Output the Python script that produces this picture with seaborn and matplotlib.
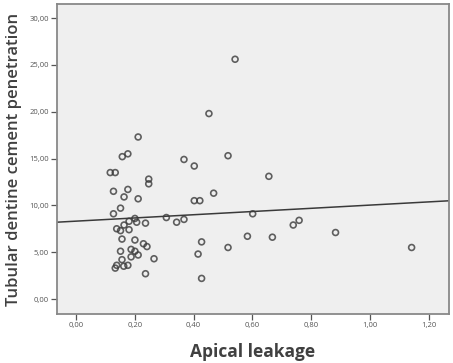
import matplotlib
matplotlib.use("Agg")
import matplotlib.pyplot as plt
import pandas as pd
import seaborn as sns

###############################################################################
# data

apical_leakage = [
    0.541, 0.452, 0.211, 0.157, 0.176, 0.367, 0.402, 0.517,
    0.116, 0.133, 0.247, 0.247, 0.127, 0.176, 0.163, 0.211,
    0.468, 0.402, 0.421, 0.151, 0.127, 0.601, 0.200, 0.180,
    0.206, 0.236, 0.307, 0.342, 0.367, 0.163, 0.138, 0.151,
    0.180, 0.156, 0.200, 0.229, 0.241, 0.427, 0.151, 0.187,
    0.200, 0.211, 0.187, 0.265, 0.415, 0.517, 0.583, 0.156,
    0.138, 0.133, 0.162, 0.176, 0.236, 0.427, 0.656, 0.739,
    0.759, 0.668, 0.883, 1.142,
]
cement_penetration = [
    25.6, 19.8, 17.3, 15.2, 15.5, 14.9, 14.2, 15.3,
    13.5, 13.5, 12.8, 12.3, 11.5, 11.7, 10.9, 10.7,
    11.3, 10.5, 10.5, 9.7, 9.1, 9.1, 8.6, 8.3,
    8.2, 8.1, 8.7, 8.2, 8.5, 7.9, 7.5, 7.3,
    7.4, 6.4, 6.3, 5.9, 5.6, 6.1, 5.1, 5.3,
    5.1, 4.7, 4.5, 4.3, 4.8, 5.5, 6.7, 4.2,
    3.6, 3.3, 3.5, 3.6, 2.7, 2.2, 13.1, 7.9,
    8.4, 6.6, 7.1, 5.5,
]

x_ticks = [0.0, 0.2, 0.4, 0.6, 0.8, 1.0, 1.2]
x_ticklabels = ["0,00", "0,20", "0,40", "0,60", "0,80", "1,00", "1,20"]
y_ticks = [0, 5, 10, 15, 20, 25, 30]
y_ticklabels = ["0,00", "5,00", "10,00", "15,00", "20,00", "25,00", "30,00"]

df = pd.DataFrame({"Apical leakage": apical_leakage,
                   "Tubular dentine cement penetration": cement_penetration})

###############################################################################

sns.set_style("white")
plt.rcParams['font.family'] = ['Open Sans', 'DejaVu Sans']

fig = plt.figure(figsize=(4.53, 3.63), dpi=100)
ax = fig.add_axes([0.126, 0.135, 0.865, 0.854])
ax.set_facecolor("#efefef")

ax.set_xlim(-0.065, 1.269)
ax.set_ylim(-1.6, 31.5)

sns.regplot(data=df, x="Apical leakage", y="Tubular dentine cement penetration",
            ax=ax, ci=None, truncate=False,
            scatter_kws=dict(s=18, facecolors="none", edgecolors="#3a3a3a",
                             linewidths=1.2),
            line_kws=dict(color="#3a3a3a", lw=1.1))

ax.set_xlim(-0.065, 1.269)
ax.set_ylim(-1.6, 31.5)

ax.set_xticks(x_ticks)
ax.set_xticklabels(x_ticklabels)
ax.set_yticks(y_ticks)
ax.set_yticklabels(y_ticklabels)
ax.tick_params(axis="both", direction="out", length=4, width=0.9,
               color="#555555", labelsize=5.5, labelcolor="#555555",
               bottom=True, left=True, pad=2)

for side in ax.spines.values():
    side.set_visible(True)
    side.set_color("#888888")
    side.set_linewidth(1.3)

ax.set_xlabel("Apical leakage", fontsize=12.5, fontweight="bold",
              color="#404040", labelpad=10)
ax.set_ylabel("Tubular dentine cement penetration", fontsize=12,
              fontweight="semibold", color="#404040", labelpad=5)

plt.savefig("out.png", dpi=100)
